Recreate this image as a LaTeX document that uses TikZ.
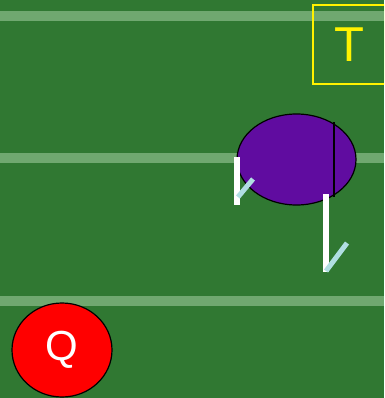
\documentclass[tikz,border=0pt]{standalone}
\usepackage{fontspec}
\setmainfont{Liberation Sans}
\usetikzlibrary{shapes.geometric}
\definecolor{fieldgreen}{RGB}{48,120,50}
\definecolor{stripegreen}{RGB}{112,168,112}
\definecolor{playerpurple}{RGB}{96,12,160}
\definecolor{routeblue}{RGB}{176,222,226}
\tikzset{
    yardline/.style={stripegreen, line width=10pt},
    player/.style={
        ellipse, draw=black, line width=1.2pt, inner sep=0pt
    },
    route/.style={white, line width=6pt},
    cut/.style={routeblue, line width=5pt}
}
\begin{document}
\begin{tikzpicture}[x=1pt, y=-1pt]
    % Field
    \useasboundingbox (0,0) rectangle (384,398);
    \clip (0,0) rectangle (384,398);
    \fill[fieldgreen] (0,0) rectangle (384,398);
    \foreach \y in {16,158,301} {
        \draw[yardline] (0,\y) -- (384,\y);
    }
    % Target box
    \node[draw=yellow, line width=2pt, text=yellow,
          minimum width=72pt, minimum height=79pt,
          font=\fontsize{49}{49}\selectfont] (tbox) at (349,44.5) {T};
    % Players
    \node[player, fill=playerpurple, minimum width=119pt,
          minimum height=91pt] (def) at (296.5,159.5) {};
    \draw[black, line width=1.5pt] (334,122) -- (334,197);
    \node[player, fill=red, text=white, minimum width=100pt,
          minimum height=94pt, font=\fontsize{42}{42}\selectfont]
          (qb) at (62,350) {Q};
    % Routes
    \coordinate (r1a) at (236.5,157);
    \coordinate (r1b) at (236.5,205);
    \coordinate (r2a) at (325.5,194);
    \coordinate (r2b) at (325.5,272);
    \draw[route] (r1a) -- (r1b);
    \draw[cut] (238,197) -- (253,179);
    \draw[route] (r2a) -- (r2b);
    \draw[cut] (326,271) -- (347,243);
\end{tikzpicture}
\end{document}
